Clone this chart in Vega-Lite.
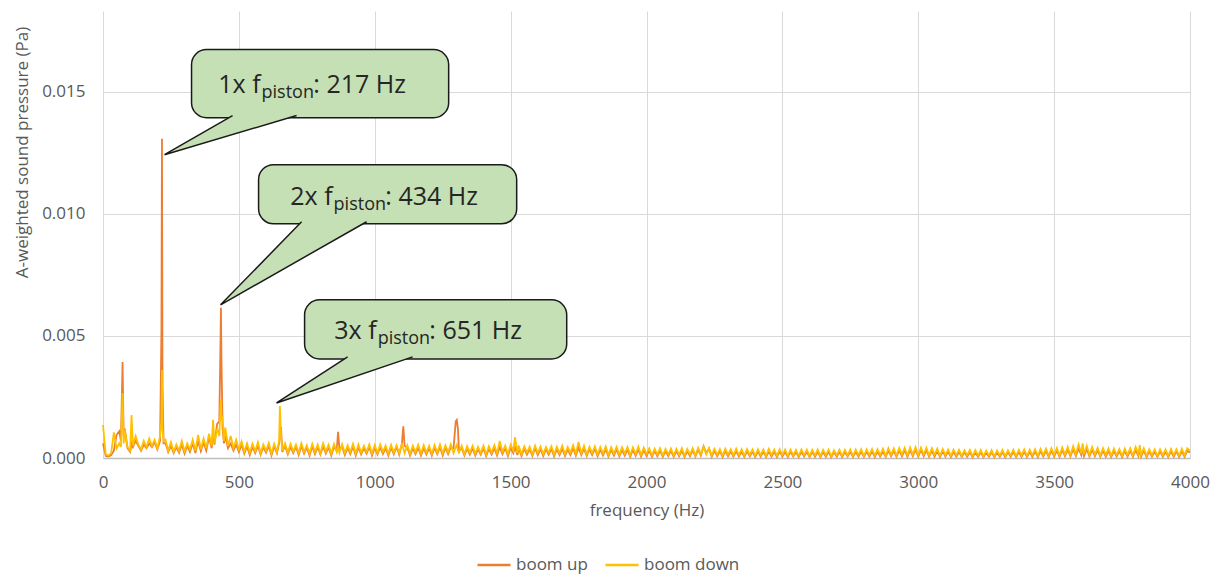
{
"$schema": "https://vega.github.io/schema/vega-lite/v6.json",
"width": 1087, "height": 447,
"autosize": "none",
"padding": {"left": 103, "top": 11, "right": 31, "bottom": 116},
"background": "white",
"config": {
  "font": "Open Sans",
  "view": {"stroke": null},
  "axis": {"labelFont": "Open Sans", "labelFontSize": 17, "labelColor": "#595959", "titleFont": "Open Sans", "titleFontSize": 17, "titleColor": "#595959", "titleFontWeight": "normal", "gridColor": "#D9D9D9", "gridWidth": 1, "ticks": false, "domain": false, "labelFlush": false, "labelOverlap": false},
  "legend": {"labelFont": "Open Sans", "labelFontSize": 17, "labelColor": "#595959", "symbolType": "stroke", "symbolSize": 1089, "symbolStrokeWidth": 2.5, "padding": 0, "columnPadding": 12, "labelOffset": 4}
},
"datasets": {
"spec": [
{"f":0,"u":0.0006,"d":0.00135},{"f":10,"u":0.00008,"d":0.00015},{"f":20,"u":0.00006,"d":0.0001},{"f":30,"u":0.00012,"d":0.0002},{"f":40,"u":0.0003,"d":0.00105},{"f":50,"u":0.00095,"d":0.0004},{"f":60,"u":0.0011,"d":0.0006},{"f":66,"u":0.0007,"d":0.00045},{"f":72,"u":0.00393,"d":0.00266},{"f":76,"u":0.0009,"d":0.0006},{"f":80,"u":0.0012,"d":0.00115},{"f":90,"u":0.0004,"d":0.00045},{"f":100,"u":0.00025,"d":0.0003},{"f":105,"u":0.0006,"d":0.00176},{"f":110,"u":0.00045,"d":0.0005},{"f":120,"u":0.0007,"d":0.0009},{"f":130,"u":0.0005,"d":0.00055},{"f":140,"u":0.0003,"d":0.00035},{"f":150,"u":0.00055,"d":0.0007},{"f":160,"u":0.0004,"d":0.00045},{"f":170,"u":0.0006,"d":0.0008},{"f":180,"u":0.00045,"d":0.0005},{"f":190,"u":0.00065,"d":0.00075},{"f":200,"u":0.00035,"d":0.0004},{"f":210,"u":0.0007,"d":0.0009},{"f":215,"u":0.0052,"d":0.0015},{"f":217,"u":0.01307,"d":0.0036},{"f":219,"u":0.003,"d":0.0012},{"f":223,"u":0.0006,"d":0.0007},
{"f":230,"u":0.0006,"d":0.00075},{"f":240,"u":0.00025,"d":0.0003},{"f":250,"u":0.0005,"d":0.00065},{"f":260,"u":0.0002,"d":0.00025},{"f":270,"u":0.00045,"d":0.00055},{"f":280,"u":0.00022,"d":0.0003},{"f":290,"u":0.00055,"d":0.0007},{"f":300,"u":0.00018,"d":0.00028},{"f":310,"u":0.0005,"d":0.0006},{"f":320,"u":0.00025,"d":0.00035},{"f":330,"u":0.0006,"d":0.00075},{"f":340,"u":0.0002,"d":0.0003},{"f":350,"u":0.0007,"d":0.00095},{"f":360,"u":0.00028,"d":0.00035},{"f":370,"u":0.00065,"d":0.0008},{"f":380,"u":0.0003,"d":0.0004},{"f":390,"u":0.00085,"d":0.001},{"f":400,"u":0.0004,"d":0.0005},{"f":405,"u":0.0011,"d":0.00156},{"f":410,"u":0.00055,"d":0.0006},{"f":420,"u":0.0014,"d":0.0012},{"f":428,"u":0.0015,"d":0.0009},{"f":432,"u":0.0045,"d":0.002},{"f":434,"u":0.00615,"d":0.00238},{"f":436,"u":0.004,"d":0.0016},{"f":440,"u":0.0012,"d":0.00165},{"f":445,"u":0.0006,"d":0.0007},{"f":450,"u":0.0009,"d":0.00125},{"f":460,"u":0.0004,"d":0.0005},{"f":470,"u":0.0006,"d":0.0009},{"f":480,"u":0.0003,"d":0.0004},{"f":490,"u":0.00055,"d":0.00075},{"f":500,"u":0.00025,"d":0.00035},
{"f":510,"u":0.00055,"d":0.00068},{"f":520,"u":0.00018,"d":0.00025},{"f":530,"u":0.00048,"d":0.0006},{"f":540,"u":0.00012,"d":0.00022},{"f":550,"u":0.00045,"d":0.00058},{"f":560,"u":0.0002,"d":0.00028},{"f":570,"u":0.0005,"d":0.00065},{"f":580,"u":0.00014,"d":0.0002},{"f":590,"u":0.00045,"d":0.00055},{"f":600,"u":0.00022,"d":0.0003},{"f":610,"u":0.0005,"d":0.00062},{"f":620,"u":0.0001,"d":0.00018},{"f":630,"u":0.00048,"d":0.00058},{"f":640,"u":0.0002,"d":0.00025},{"f":648,"u":0.0006,"d":0.0007},{"f":651,"u":0.0009,"d":0.00213},{"f":655,"u":0.00127,"d":0.0009},{"f":660,"u":0.00025,"d":0.0003},{"f":670,"u":0.0005,"d":0.0006},{"f":680,"u":0.00015,"d":0.00022},{"f":690,"u":0.00045,"d":0.00058},{"f":700,"u":0.0002,"d":0.00027},{"f":710,"u":0.00045,"d":0.00055},{"f":720,"u":0.00012,"d":0.0002},{"f":730,"u":0.0005,"d":0.0006},{"f":740,"u":0.00018,"d":0.00025},{"f":750,"u":0.00042,"d":0.00052},{"f":760,"u":0.0001,"d":0.00018},{"f":770,"u":0.00048,"d":0.00058},{"f":780,"u":0.00016,"d":0.00024},{"f":790,"u":0.00045,"d":0.00055},{"f":800,"u":0.00014,"d":0.0002},{"f":810,"u":0.00048,"d":0.0006},{"f":820,"u":0.00018,"d":0.00026},{"f":830,"u":0.00044,"d":0.00054},{"f":840,"u":0.0001,"d":0.00018},{"f":850,"u":0.00046,"d":0.00057},{"f":860,"u":0.0003,"d":0.00025},{"f":865,"u":0.00107,"d":0.0005},{"f":870,"u":0.0004,"d":0.00022},{"f":880,"u":0.00045,"d":0.00056},{"f":890,"u":0.00012,"d":0.0002},{"f":900,"u":0.00042,"d":0.00052},{"f":910,"u":0.00016,"d":0.00024},{"f":920,"u":0.00047,"d":0.00058},{"f":930,"u":0.0001,"d":0.00018},{"f":940,"u":0.00044,"d":0.00055},{"f":950,"u":0.00015,"d":0.00022},{"f":960,"u":0.0004,"d":0.0005},{"f":970,"u":0.00018,"d":0.00025},{"f":980,"u":0.00045,"d":0.00056},{"f":990,"u":0.0001,"d":0.00018},{"f":1000,"u":0.00042,"d":0.00053},
{"f":1010,"u":0.00014,"d":0.0002},{"f":1020,"u":0.00044,"d":0.00055},{"f":1030,"u":0.00016,"d":0.00025},{"f":1040,"u":0.0004,"d":0.0005},{"f":1050,"u":0.0001,"d":0.00018},{"f":1060,"u":0.00043,"d":0.00054},{"f":1070,"u":0.00015,"d":0.00022},{"f":1080,"u":0.00045,"d":0.00052},{"f":1090,"u":0.00014,"d":0.0002},{"f":1100,"u":0.0006,"d":0.00055},{"f":1105,"u":0.0013,"d":0.0004},{"f":1110,"u":0.0005,"d":0.0002},{"f":1120,"u":0.00042,"d":0.00052},{"f":1130,"u":0.0001,"d":0.00017},{"f":1140,"u":0.0004,"d":0.0005},{"f":1150,"u":0.00016,"d":0.00024},{"f":1160,"u":0.00042,"d":0.00054},{"f":1170,"u":0.0001,"d":0.00018},{"f":1180,"u":0.0004,"d":0.00052},{"f":1190,"u":0.00014,"d":0.00022},{"f":1200,"u":0.0004,"d":0.0005},{"f":1210,"u":0.0001,"d":0.00016},{"f":1220,"u":0.00042,"d":0.00053},{"f":1230,"u":0.00016,"d":0.00022},{"f":1240,"u":0.00044,"d":0.00055},{"f":1250,"u":0.0001,"d":0.00018},{"f":1260,"u":0.00042,"d":0.00052},{"f":1270,"u":0.00016,"d":0.00024},{"f":1280,"u":0.00045,"d":0.00056},{"f":1290,"u":0.0004,"d":0.0002},{"f":1298,"u":0.0015,"d":0.00045},{"f":1302,"u":0.00156,"d":0.00055},{"f":1306,"u":0.0012,"d":0.0003},{"f":1310,"u":0.0003,"d":0.00022},{"f":1320,"u":0.0004,"d":0.0005},{"f":1330,"u":0.0001,"d":0.00016},{"f":1340,"u":0.00038,"d":0.00048},{"f":1350,"u":0.00014,"d":0.00022},{"f":1360,"u":0.0004,"d":0.0005},{"f":1370,"u":0.0001,"d":0.00018},{"f":1380,"u":0.00036,"d":0.00046},{"f":1390,"u":0.00014,"d":0.0002},{"f":1400,"u":0.0004,"d":0.0005},{"f":1410,"u":0.00008,"d":0.00015},{"f":1420,"u":0.00038,"d":0.00048},{"f":1430,"u":0.00014,"d":0.00022},{"f":1440,"u":0.0004,"d":0.00052},{"f":1450,"u":0.0001,"d":0.00018},{"f":1460,"u":0.00045,"d":0.0007},{"f":1470,"u":0.00016,"d":0.00025},{"f":1480,"u":0.0004,"d":0.0005},{"f":1490,"u":0.00008,"d":0.00016},{"f":1500,"u":0.00042,"d":0.00055},{"f":1510,"u":0.0002,"d":0.0003},{"f":1516,"u":0.00045,"d":0.00085},{"f":1525,"u":0.00012,"d":0.0002},{"f":1530,"u":0.0004,"d":0.0005},
{"f":1540,"u":0.00008,"d":0.00015},{"f":1550,"u":0.00038,"d":0.00048},{"f":1560,"u":0.00014,"d":0.00022},{"f":1570,"u":0.00036,"d":0.00046},{"f":1580,"u":0.00008,"d":0.00014},{"f":1590,"u":0.0004,"d":0.0005},{"f":1600,"u":0.00012,"d":0.0002},{"f":1610,"u":0.00037,"d":0.00047},{"f":1620,"u":0.00008,"d":0.00015},{"f":1630,"u":0.00036,"d":0.00045},{"f":1640,"u":0.00014,"d":0.00022},{"f":1650,"u":0.00038,"d":0.00048},{"f":1660,"u":0.00007,"d":0.00014},{"f":1670,"u":0.00036,"d":0.00046},{"f":1680,"u":0.00012,"d":0.0002},{"f":1690,"u":0.00038,"d":0.0005},{"f":1700,"u":0.00008,"d":0.00016},{"f":1710,"u":0.00035,"d":0.00045},{"f":1720,"u":0.00012,"d":0.00022},{"f":1730,"u":0.0004,"d":0.00052},{"f":1740,"u":0.0001,"d":0.00018},{"f":1750,"u":0.00042,"d":0.00066},{"f":1760,"u":0.00012,"d":0.0002},{"f":1770,"u":0.00038,"d":0.0005},{"f":1780,"u":0.00008,"d":0.00014},{"f":1790,"u":0.00036,"d":0.00046},{"f":1800,"u":0.00012,"d":0.0002},{"f":1810,"u":0.00038,"d":0.00048},{"f":1820,"u":0.00007,"d":0.00014},{"f":1830,"u":0.00034,"d":0.00045},{"f":1840,"u":0.0001,"d":0.00018},{"f":1850,"u":0.00036,"d":0.00047},{"f":1860,"u":0.00006,"d":0.00012},{"f":1870,"u":0.00034,"d":0.00044},{"f":1880,"u":0.0001,"d":0.00018},{"f":1890,"u":0.00035,"d":0.00046},{"f":1900,"u":0.00007,"d":0.00013},{"f":1910,"u":0.00033,"d":0.00044},{"f":1920,"u":0.0001,"d":0.00018},{"f":1930,"u":0.00034,"d":0.00045},{"f":1940,"u":0.00006,"d":0.00012},{"f":1950,"u":0.00033,"d":0.00043},{"f":1960,"u":0.00009,"d":0.00017},{"f":1970,"u":0.00035,"d":0.00046},{"f":1980,"u":0.00006,"d":0.00012},{"f":1990,"u":0.00032,"d":0.00042},{"f":2000,"u":0.00008,"d":0.00016},
{"f":2010,"u":0.0003,"d":0.0004},{"f":2020,"u":0.00005,"d":0.0001},{"f":2030,"u":0.00029,"d":0.00038},{"f":2040,"u":0.00007,"d":0.00014},{"f":2050,"u":0.0003,"d":0.0004},{"f":2060,"u":0.00005,"d":0.0001},{"f":2070,"u":0.00028,"d":0.00037},{"f":2080,"u":0.00008,"d":0.00015},{"f":2090,"u":0.0003,"d":0.00039},{"f":2100,"u":0.00005,"d":0.0001},{"f":2110,"u":0.00028,"d":0.00038},{"f":2120,"u":0.00007,"d":0.00013},{"f":2130,"u":0.0003,"d":0.0004},{"f":2140,"u":0.00004,"d":0.00009},{"f":2150,"u":0.00028,"d":0.00037},{"f":2160,"u":0.00007,"d":0.00014},{"f":2170,"u":0.00032,"d":0.0004},{"f":2180,"u":0.00006,"d":0.0001},{"f":2190,"u":0.00035,"d":0.00042},{"f":2200,"u":0.0001,"d":0.00015},{"f":2210,"u":0.00048,"d":0.00045},{"f":2220,"u":0.0002,"d":0.00014},{"f":2230,"u":0.00038,"d":0.0004},{"f":2240,"u":0.00005,"d":0.0001},{"f":2250,"u":0.0003,"d":0.00038},{"f":2260,"u":0.00007,"d":0.00013},{"f":2270,"u":0.00028,"d":0.00037},{"f":2280,"u":0.00004,"d":0.00009},{"f":2290,"u":0.00029,"d":0.00038},{"f":2300,"u":0.00007,"d":0.00014},{"f":2310,"u":0.00027,"d":0.00036},{"f":2320,"u":0.00005,"d":0.0001},{"f":2330,"u":0.00028,"d":0.00038},{"f":2340,"u":0.00006,"d":0.00012},{"f":2350,"u":0.00026,"d":0.00036},{"f":2360,"u":0.00004,"d":0.00009},{"f":2370,"u":0.00028,"d":0.00037},{"f":2380,"u":0.00007,"d":0.00013},{"f":2390,"u":0.00026,"d":0.00035},{"f":2400,"u":0.00004,"d":0.00009},{"f":2410,"u":0.00027,"d":0.00036},{"f":2420,"u":0.00006,"d":0.00012},{"f":2430,"u":0.00026,"d":0.00035},{"f":2440,"u":0.00004,"d":0.00008},{"f":2450,"u":0.00027,"d":0.00037},{"f":2460,"u":0.00006,"d":0.00012},{"f":2470,"u":0.00025,"d":0.00034},{"f":2480,"u":0.00004,"d":0.00009},{"f":2490,"u":0.00027,"d":0.00036},{"f":2500,"u":0.00006,"d":0.00012},
{"f":2510,"u":0.00025,"d":0.00034},{"f":2520,"u":0.00004,"d":0.00008},{"f":2530,"u":0.00026,"d":0.00035},{"f":2540,"u":0.00006,"d":0.00011},{"f":2550,"u":0.00024,"d":0.00033},{"f":2560,"u":0.00004,"d":0.00008},{"f":2570,"u":0.00026,"d":0.00035},{"f":2580,"u":0.00006,"d":0.00012},{"f":2590,"u":0.00025,"d":0.00034},{"f":2600,"u":0.00004,"d":0.00008},{"f":2610,"u":0.00025,"d":0.00033},{"f":2620,"u":0.00005,"d":0.00011},{"f":2630,"u":0.00026,"d":0.00035},{"f":2640,"u":0.00004,"d":0.00008},{"f":2650,"u":0.00024,"d":0.00033},{"f":2660,"u":0.00005,"d":0.00011},{"f":2670,"u":0.00025,"d":0.00034},{"f":2680,"u":0.00003,"d":0.00007},{"f":2690,"u":0.00024,"d":0.00032},{"f":2700,"u":0.00005,"d":0.00011},{"f":2710,"u":0.00025,"d":0.00034},{"f":2720,"u":0.00004,"d":0.00008},{"f":2730,"u":0.00024,"d":0.00033},{"f":2740,"u":0.00006,"d":0.00011},{"f":2750,"u":0.00026,"d":0.00035},{"f":2760,"u":0.00004,"d":0.00008},{"f":2770,"u":0.00025,"d":0.00034},{"f":2780,"u":0.00006,"d":0.00012},{"f":2790,"u":0.00027,"d":0.00036},{"f":2800,"u":0.00004,"d":0.00008},{"f":2810,"u":0.00026,"d":0.00035},{"f":2820,"u":0.00006,"d":0.00012},{"f":2830,"u":0.00028,"d":0.00037},{"f":2840,"u":0.00004,"d":0.00009},{"f":2850,"u":0.00027,"d":0.00036},{"f":2860,"u":0.00006,"d":0.00012},{"f":2870,"u":0.00028,"d":0.00038},{"f":2880,"u":0.00005,"d":0.00009},{"f":2890,"u":0.0003,"d":0.0004},{"f":2900,"u":0.00007,"d":0.00013},{"f":2910,"u":0.00029,"d":0.00039},{"f":2920,"u":0.00005,"d":0.0001},{"f":2930,"u":0.00031,"d":0.00041},{"f":2940,"u":0.00007,"d":0.00014},{"f":2950,"u":0.00032,"d":0.00042},{"f":2960,"u":0.00005,"d":0.0001},{"f":2970,"u":0.00033,"d":0.00043},{"f":2980,"u":0.00007,"d":0.00014},{"f":2990,"u":0.00034,"d":0.00044},{"f":3000,"u":0.00006,"d":0.00011},
{"f":3010,"u":0.00033,"d":0.00043},{"f":3020,"u":0.00007,"d":0.00014},{"f":3030,"u":0.00032,"d":0.00042},{"f":3040,"u":0.00005,"d":0.0001},{"f":3050,"u":0.0003,"d":0.0004},{"f":3060,"u":0.00006,"d":0.00013},{"f":3070,"u":0.00029,"d":0.00038},{"f":3080,"u":0.00004,"d":0.00009},{"f":3090,"u":0.00028,"d":0.00037},{"f":3100,"u":0.00006,"d":0.00012},{"f":3110,"u":0.00026,"d":0.00035},{"f":3120,"u":0.00004,"d":0.00008},{"f":3130,"u":0.00025,"d":0.00034},{"f":3140,"u":0.00005,"d":0.00011},{"f":3150,"u":0.00024,"d":0.00033},{"f":3160,"u":0.00004,"d":0.00008},{"f":3170,"u":0.00024,"d":0.00032},{"f":3180,"u":0.00005,"d":0.00011},{"f":3190,"u":0.00024,"d":0.00033},{"f":3200,"u":0.00003,"d":0.00007},{"f":3210,"u":0.00023,"d":0.00032},{"f":3220,"u":0.00005,"d":0.0001},{"f":3230,"u":0.00024,"d":0.00033},{"f":3240,"u":0.00003,"d":0.00007},{"f":3250,"u":0.00023,"d":0.00031},{"f":3260,"u":0.00005,"d":0.0001},{"f":3270,"u":0.00024,"d":0.00032},{"f":3280,"u":0.00003,"d":0.00007},{"f":3290,"u":0.00023,"d":0.00031},{"f":3300,"u":0.00005,"d":0.0001},{"f":3310,"u":0.00024,"d":0.00033},{"f":3320,"u":0.00003,"d":0.00007},{"f":3330,"u":0.00024,"d":0.00032},{"f":3340,"u":0.00005,"d":0.00011},{"f":3350,"u":0.00025,"d":0.00034},{"f":3360,"u":0.00004,"d":0.00008},{"f":3370,"u":0.00024,"d":0.00033},{"f":3380,"u":0.00005,"d":0.00011},{"f":3390,"u":0.00026,"d":0.00035},{"f":3400,"u":0.00004,"d":0.00008},{"f":3410,"u":0.00025,"d":0.00034},{"f":3420,"u":0.00005,"d":0.00011},{"f":3430,"u":0.00027,"d":0.00036},{"f":3440,"u":0.00004,"d":0.00008},{"f":3450,"u":0.00028,"d":0.00037},{"f":3460,"u":0.00006,"d":0.00012},{"f":3470,"u":0.00029,"d":0.00038},{"f":3480,"u":0.00004,"d":0.00009},{"f":3490,"u":0.0003,"d":0.0004},{"f":3500,"u":0.00006,"d":0.00012},
{"f":3510,"u":0.00031,"d":0.00041},{"f":3520,"u":0.00005,"d":0.0001},{"f":3530,"u":0.00033,"d":0.00043},{"f":3540,"u":0.00007,"d":0.00014},{"f":3550,"u":0.00034,"d":0.00045},{"f":3560,"u":0.00006,"d":0.00011},{"f":3570,"u":0.00036,"d":0.00048},{"f":3580,"u":0.00008,"d":0.00015},{"f":3590,"u":0.00038,"d":0.00055},{"f":3600,"u":0.00012,"d":0.00018},{"f":3605,"u":0.00042,"d":0.0006},{"f":3610,"u":0.00008,"d":0.00015},{"f":3620,"u":0.00036,"d":0.0005},{"f":3630,"u":0.00006,"d":0.00012},{"f":3640,"u":0.00034,"d":0.00045},{"f":3650,"u":0.00007,"d":0.00014},{"f":3660,"u":0.00032,"d":0.00042},{"f":3670,"u":0.00005,"d":0.0001},{"f":3680,"u":0.0003,"d":0.0004},{"f":3690,"u":0.00006,"d":0.00013},{"f":3700,"u":0.00029,"d":0.00039},{"f":3710,"u":0.00004,"d":0.00009},{"f":3720,"u":0.00028,"d":0.00038},{"f":3730,"u":0.00006,"d":0.00012},{"f":3740,"u":0.00028,"d":0.00037},{"f":3750,"u":0.00004,"d":0.00009},{"f":3760,"u":0.00029,"d":0.00038},{"f":3770,"u":0.00006,"d":0.00012},{"f":3780,"u":0.0003,"d":0.0004},{"f":3790,"u":0.00005,"d":0.0001},{"f":3800,"u":0.00032,"d":0.00045},{"f":3810,"u":0.00008,"d":0.00016},{"f":3815,"u":0.00036,"d":0.00053},{"f":3820,"u":0.00006,"d":0.00012},{"f":3830,"u":0.0003,"d":0.0004},{"f":3840,"u":0.00004,"d":0.00009},{"f":3850,"u":0.00027,"d":0.00036},{"f":3860,"u":0.00006,"d":0.00012},{"f":3870,"u":0.00026,"d":0.00035},{"f":3880,"u":0.00004,"d":0.00008},{"f":3890,"u":0.00027,"d":0.00036},{"f":3900,"u":0.00005,"d":0.00011},{"f":3910,"u":0.00026,"d":0.00035},{"f":3920,"u":0.00004,"d":0.00008},{"f":3930,"u":0.00027,"d":0.00037},{"f":3940,"u":0.00005,"d":0.00011},{"f":3950,"u":0.00027,"d":0.00036},{"f":3960,"u":0.00004,"d":0.00008},{"f":3970,"u":0.00028,"d":0.00038},{"f":3980,"u":0.00005,"d":0.00011},{"f":3990,"u":0.0003,"d":0.0004},{"f":4000,"u":0.00022,"d":0.0003}
]
},
"layer": [
  {
    "data": {"name": "spec"},
    "mark": {"type": "line", "strokeWidth": 1.8},
    "encoding": {
      "x": {"field": "f", "type": "quantitative", "scale": {"domain": [0, 4000], "nice": false},
            "axis": {"title": "frequency (Hz)", "values": [0,500,1000,1500,2000,2500,3000,3500,4000], "format": "d", "labelPadding": 16, "titlePadding": 12, "domain": true, "domainColor": "#BFBFBF", "domainWidth": 1.5, "grid": true}},
      "y": {"field": "u", "type": "quantitative", "scale": {"domain": [0, 0.0183], "nice": false, "zero": true},
            "axis": {"title": "A-weighted sound pressure (Pa)", "values": [0, 0.005, 0.01, 0.015], "format": ".3f", "labelPadding": 18, "grid": true, "titleX": -81, "titleY": 141, "titleAngle": -90, "titleAlign": "center", "titleBaseline": "middle"}},
      "color": {"datum": "boom up", "type": "nominal",
                "scale": {"domain": ["boom up", "boom down"], "range": ["#ED7D31", "#FFC000"]},
                "legend": {"title": null, "orient": "none", "direction": "horizontal", "legendX": 373, "legendY": 536}}
    }
  },
  {
    "data": {"name": "spec"},
    "mark": {"type": "line", "strokeWidth": 1.8},
    "encoding": {
      "x": {"field": "f", "type": "quantitative"},
      "y": {"field": "d", "type": "quantitative"},
      "color": {"datum": "boom down", "type": "nominal"}
    }
  },
  {
    "data": {"values": [
      {"x1": 325.8, "x2": 1272, "y1": 0.016721, "y2": 0.013934},
      {"x1": 572.5, "x2": 1522.3, "y1": 0.012008, "y2": 0.00959},
      {"x1": 741.8, "x2": 1706.4, "y1": 0.006475, "y2": 0.004057}
    ]},
    "mark": {"type": "rect", "fill": "#C5E0B4", "stroke": "#1a1a1a", "strokeWidth": 1.5, "cornerRadius": 15},
    "encoding": {
      "x": {"field": "x1", "type": "quantitative"},
      "x2": {"field": "x2"},
      "y": {"field": "y1", "type": "quantitative"},
      "y2": {"field": "y2"}
    }
  },
  {
    "data": {"values": [
      {"b": 1, "o": 1, "x": 476.7, "y": 0.01402},
      {"b": 1, "o": 2, "x": 226.4, "y": 0.012418},
      {"b": 1, "o": 3, "x": 712.4, "y": 0.01402},
      {"b": 2, "o": 1, "x": 730.8, "y": 0.009672},
      {"b": 2, "o": 2, "x": 432.6, "y": 0.00627},
      {"b": 2, "o": 3, "x": 970.1, "y": 0.009672},
      {"b": 3, "o": 1, "x": 900.1, "y": 0.004139},
      {"b": 3, "o": 2, "x": 638.7, "y": 0.002254},
      {"b": 3, "o": 3, "x": 1139.4, "y": 0.004139}
    ]},
    "mark": {"type": "line", "fill": "#C5E0B4", "stroke": "#1a1a1a", "strokeWidth": 1.5, "strokeJoin": "miter"},
    "encoding": {
      "x": {"field": "x", "type": "quantitative"},
      "y": {"field": "y", "type": "quantitative"},
      "detail": {"field": "b", "type": "nominal"},
      "order": {"field": "o", "type": "quantitative"}
    }
  },
  {
    "data": {"values": [
      {"x": 579.8, "y": 0.014959, "t": "1x f"},
      {"x": 844.9, "y": 0.010369, "t": "2x f"},
      {"x": 1006.9, "y": 0.004877, "t": "3x f"}
    ]},
    "mark": {"type": "text", "align": "right", "baseline": "alphabetic", "fontSize": 25, "font": "Open Sans", "color": "#262626"},
    "encoding": {
      "x": {"field": "x", "type": "quantitative"},
      "y": {"field": "y", "type": "quantitative"},
      "text": {"field": "t"}
    }
  },
  {
    "data": {"values": [
      {"x": 583.5, "y": 0.014754, "t": "piston"},
      {"x": 848.6, "y": 0.010164, "t": "piston"},
      {"x": 1010.6, "y": 0.004672, "t": "piston"}
    ]},
    "mark": {"type": "text", "align": "left", "baseline": "alphabetic", "fontSize": 18, "font": "Open Sans", "color": "#262626"},
    "encoding": {
      "x": {"field": "x", "type": "quantitative"},
      "y": {"field": "y", "type": "quantitative"},
      "text": {"field": "t"}
    }
  },
  {
    "data": {"values": [
      {"x": 774.0, "y": 0.014959, "t": ": 217 Hz"},
      {"x": 1039.0, "y": 0.010369, "t": ": 434 Hz"},
      {"x": 1201.0, "y": 0.004877, "t": ": 651 Hz"}
    ]},
    "mark": {"type": "text", "align": "left", "baseline": "alphabetic", "fontSize": 25, "font": "Open Sans", "color": "#262626"},
    "encoding": {
      "x": {"field": "x", "type": "quantitative"},
      "y": {"field": "y", "type": "quantitative"},
      "text": {"field": "t"}
    }
  }
]
}
